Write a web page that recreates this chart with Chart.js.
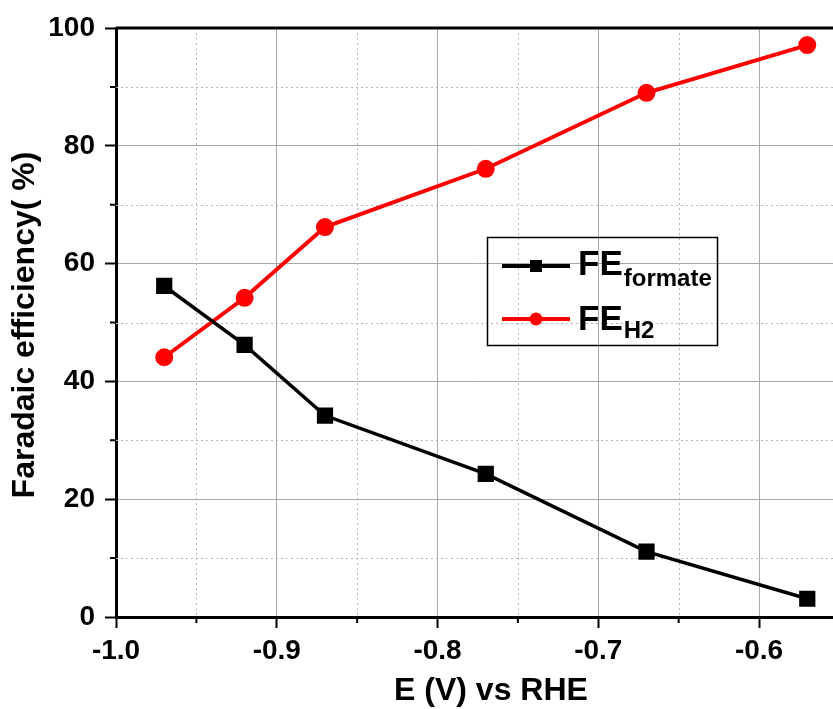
<!DOCTYPE html>
<html lang="en">
<head>
  <meta charset="UTF-8">
  <title>Faradaic efficiency vs E</title>
  <style>
    html, body { margin: 0; padding: 0; background: #fff; }
    #wrap { width: 833px; height: 709px; }
  </style>
</head>
<body>
  <div id="wrap"><canvas id="feChart" width="833" height="709"></canvas></div>

  <script src="https://cdn.jsdelivr.net/npm/chart.js"></script>
  <script>
    // data
    const potentials = [-0.97, -0.92, -0.87, -0.77, -0.67, -0.57];
    const feFormate = [56.2, 46.2, 34.2, 24.3, 11.1, 3.1];
    const feH2 = [44.1, 54.2, 66.2, 76.1, 89.0, 97.1];

    const xTicks = [-1.0, -0.9, -0.8, -0.7, -0.6];
    const xMinor = [-0.95, -0.85, -0.75, -0.65];
    const yTicks = [0, 20, 40, 60, 80, 100];
    const yMinor = [10, 30, 50, 70, 90];

    const xTitle = 'E (V) vs RHE';
    const yTitle = 'Faradaic efficiency( %)';

    const FONT = '"Liberation Sans", Arial, sans-serif';
    const tickFont = { family: FONT, size: 28, weight: 'bold' };

    // minor ticks, dotted minor grid, top frame, axis titles and legend
    const extras = {
      id: 'extras',
      beforeDatasetsDraw(chart) {
        const { ctx, chartArea: a, scales: { x, y } } = chart;
        ctx.save();
        ctx.strokeStyle = '#b8b8b8';
        ctx.lineWidth = 1;
        ctx.setLineDash([2, 3]);
        ctx.beginPath();
        xMinor.forEach(v => {
          const px = Math.round(x.getPixelForValue(v)) + 0.5;
          ctx.moveTo(px, a.top); ctx.lineTo(px, a.bottom);
        });
        yMinor.forEach(v => {
          const py = Math.round(y.getPixelForValue(v)) + 0.5;
          ctx.moveTo(a.left, py); ctx.lineTo(a.right, py);
        });
        ctx.stroke();
        ctx.setLineDash([]);

        // minor tick marks, outward
        ctx.strokeStyle = '#000';
        ctx.lineWidth = 2;
        ctx.beginPath();
        xMinor.forEach(v => {
          const px = x.getPixelForValue(v);
          ctx.moveTo(px, a.bottom); ctx.lineTo(px, a.bottom + 6);
        });
        yMinor.forEach(v => {
          const py = y.getPixelForValue(v);
          ctx.moveTo(a.left, py); ctx.lineTo(a.left - 6, py);
        });
        ctx.stroke();

        // top frame
        ctx.lineWidth = 3;
        ctx.beginPath();
        ctx.moveTo(a.left, a.top); ctx.lineTo(a.right, a.top);
        ctx.stroke();
        ctx.restore();
      },
      afterDraw(chart) {
        const { ctx } = chart;
        ctx.save();
        ctx.fillStyle = '#000';

        // axis titles
        ctx.font = 'bold 32px ' + FONT;
        ctx.textAlign = 'center';
        ctx.textBaseline = 'alphabetic';
        ctx.fillText(xTitle, 491, 700);

        ctx.translate(34, 325);
        ctx.rotate(-Math.PI / 2);
        ctx.font = 'bold 32px ' + FONT;
        ctx.fillText(yTitle, 0, 0);
        ctx.restore();

        // legend box
        ctx.save();
        ctx.strokeStyle = '#000';
        ctx.lineWidth = 1.5;
        ctx.strokeRect(487.5, 237.5, 230, 108);

        const rows = [
          { ds: chart.data.datasets[0], y: 266, main: 275, sub: 'formate', subY: 286 },
          { ds: chart.data.datasets[1], y: 319, main: 330, sub: 'H2', subY: 338 }
        ];
        rows.forEach(r => {
          ctx.strokeStyle = r.ds.borderColor;
          ctx.fillStyle = r.ds.backgroundColor;
          ctx.lineWidth = 4;
          ctx.beginPath();
          ctx.moveTo(502, r.y); ctx.lineTo(570, r.y);
          ctx.stroke();
          if (r.ds.pointStyle === 'rect') {
            ctx.fillRect(530, r.y - 6, 12, 12);
          } else {
            ctx.beginPath();
            ctx.arc(536, r.y, 6.5, 0, Math.PI * 2);
            ctx.fill();
          }
          ctx.fillStyle = '#000';
          ctx.textAlign = 'left';
          ctx.textBaseline = 'alphabetic';
          ctx.font = 'bold 35px ' + FONT;
          ctx.fillText('FE', 578, r.main);
          const w = ctx.measureText('FE').width;
          ctx.font = 'bold 24px ' + FONT;
          ctx.fillText(r.sub, 578 + w + 1, r.subY);
        });
        ctx.restore();
      }
    };

    const ctx = document.getElementById('feChart').getContext('2d');
    new Chart(ctx, {
      type: 'line',
      data: {
        datasets: [
          {
            label: 'FE formate',
            data: potentials.map((p, i) => ({ x: p, y: feFormate[i] })),
            borderColor: '#000',
            backgroundColor: '#000',
            borderWidth: 3.5,
            pointStyle: 'rect',
            pointRadius: 9,
            pointHoverRadius: 9,
            tension: 0
          },
          {
            label: 'FE H2',
            data: potentials.map((p, i) => ({ x: p, y: feH2[i] })),
            borderColor: '#ff0000',
            backgroundColor: '#ff0000',
            borderWidth: 4,
            pointStyle: 'circle',
            pointRadius: 7,
            pointHoverRadius: 7,
            tension: 0
          }
        ]
      },
      options: {
        responsive: false,
        animation: false,
        devicePixelRatio: 1,
        layout: { autoPadding: false, padding: { top: 28, right: 0, bottom: 0, left: 0 } },
        plugins: { legend: { display: false }, tooltip: { enabled: false } },
        scales: {
          x: {
            type: 'linear',
            min: -1.0,
            max: -0.554,
            afterBuildTicks: s => { s.ticks = xTicks.map(v => ({ value: v })); },
            afterFit: s => { s.height = 92; },
            ticks: {
              callback: v => v.toFixed(1),
              font: tickFont,
              color: '#000',
              padding: 6,
              maxRotation: 0,
              autoSkip: false
            },
            grid: { color: '#a8a8a8', lineWidth: 1, tickLength: 11, tickWidth: 2, tickColor: '#000' },
            border: { color: '#000', width: 3 }
          },
          y: {
            min: 0,
            max: 100,
            afterBuildTicks: s => { s.ticks = yTicks.map(v => ({ value: v })); },
            afterFit: s => { s.width = 116; },
            ticks: { font: tickFont, color: '#000', padding: 10 },
            grid: { color: '#a8a8a8', lineWidth: 1, tickLength: 11, tickWidth: 2, tickColor: '#000' },
            border: { color: '#000', width: 3 }
          }
        }
      },
      plugins: [extras]
    });
  </script>
</body>
</html>
